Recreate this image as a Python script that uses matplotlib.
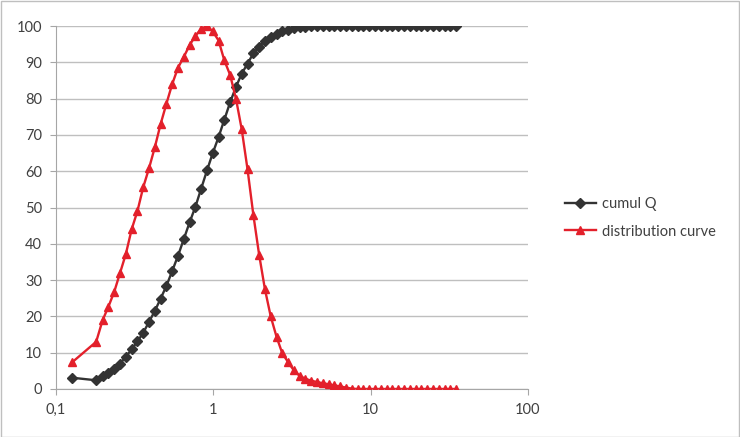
import numpy as np
import matplotlib
matplotlib.use("Agg")
import matplotlib.pyplot as plt
from matplotlib.patches import Rectangle

# particle size (log scale) and the two curves
size = [0.127, 0.18,
        0.198, 0.2155, 0.2346, 0.2554, 0.278, 0.3026, 0.3293, 0.3585,
        0.3902, 0.4248, 0.4624, 0.5033, 0.5478, 0.5963, 0.6491, 0.7065,
        0.7691, 0.8371, 0.9112, 0.9918, 1.0796, 1.1751, 1.2791, 1.3923,
        1.5155, 1.6497, 1.7957, 1.9546, 2.1276, 2.3159, 2.5209, 2.744,
        2.9868, 3.2512, 3.5389, 3.8521, 4.193, 4.5641, 4.968, 5.4077,
        5.8863, 6.4072, 6.9743, 7.5915, 8.2634, 8.9947, 9.7907, 10.657,
        11.6, 12.627, 13.744, 14.961, 16.285, 17.726, 19.295, 21.002,
        22.861, 24.884, 27.087, 29.484, 32.093, 34.933]

cumul_q = [3.1, 2.4,
           3.6, 4.5, 5.6, 7.0, 8.9, 10.9, 13.1, 15.5,
           18.5, 21.5, 24.9, 28.4, 32.5, 36.7, 41.3, 45.9,
           50.2, 55.2, 60.2, 65.0, 69.4, 74.2, 79.0, 83.2,
           86.9, 89.6, 92.5, 94.3, 95.9, 96.9, 97.8, 98.5,
           99.0, 99.4, 99.6, 99.8, 99.9, 99.9, 100, 100,
           100, 100, 100, 100, 100, 100, 100, 100,
           100, 100, 100, 100, 100, 100, 100, 100,
           100, 100, 100, 100, 100, 100]

distribution = [7.4, 13.0,
                19.0, 22.7, 26.8, 32.0, 37.2, 44.0, 49.0, 55.6,
                60.8, 66.6, 73.0, 78.6, 84.0, 88.5, 91.5, 94.7,
                97.3, 99.2, 100, 98.5, 96.0, 90.5, 86.5, 80.0,
                71.5, 60.5, 48.0, 37.0, 27.5, 20.0, 14.4, 9.8,
                7.4, 5.1, 3.6, 2.8, 2.3, 1.9, 1.6, 1.3,
                1.0, 0.7, 0.4, 0.1, 0, 0, 0, 0,
                0, 0, 0, 0, 0, 0, 0, 0,
                0, 0, 0, 0, 0, 0]

x_ticks = [0.1, 1, 10, 100]
x_labels = ["0,1", "1", "10", "100"]
y_ticks = list(range(0, 101, 10))

plt.rcParams['font.family'] = ['Lato', 'DejaVu Sans']

fig = plt.figure(figsize=(7.4, 4.37), dpi=100)
W, H = 740.0, 437.0
ax = fig.add_axes([56 / W, 1 - 389 / H, (528 - 56) / W, (389 - 26) / H])

# outer chart border
fig.patches.append(Rectangle((0.5 / W, 0.5 / H), 1 - 1.5 / W, 1 - 1.5 / H,
                             transform=fig.transFigure, fill=False,
                             edgecolor='#bfbfbf', linewidth=1))

ax.plot(size, cumul_q, color='#333333', linewidth=1.7, marker='D',
        markersize=5.2, label='cumul Q', zorder=3)
ax.plot(size, distribution, color='#e3202b', linewidth=1.7, marker='^',
        markersize=6, label='distribution curve', zorder=3)

ax.set_xscale('log')
ax.set_xlim(0.1, 100)
ax.set_ylim(0, 100)
ax.set_xticks(x_ticks)
ax.set_xticklabels(x_labels)
ax.xaxis.set_minor_locator(matplotlib.ticker.NullLocator())
ax.set_yticks(y_ticks)

ax.yaxis.grid(True, color='#bfbfbf', linewidth=1)
ax.set_axisbelow(True)
for s in ['top', 'right']:
    ax.spines[s].set_visible(False)
for s in ['left', 'bottom']:
    ax.spines[s].set_color('#a6a6a6')
ax.tick_params(axis='both', colors='#a6a6a6', length=4, labelsize=10.5,
               labelcolor='#404040')
ax.tick_params(axis='y', pad=6)
ax.tick_params(axis='x', pad=6)

ax.legend(loc='center left', bbox_to_anchor=(552 / W, 1 - 218 / H),
          bbox_transform=fig.transFigure, frameon=False, fontsize=10.5,
          handlelength=2.1, handletextpad=0.45, labelspacing=0.9,
          labelcolor='#404040')

fig.savefig('out.png', dpi=100)
